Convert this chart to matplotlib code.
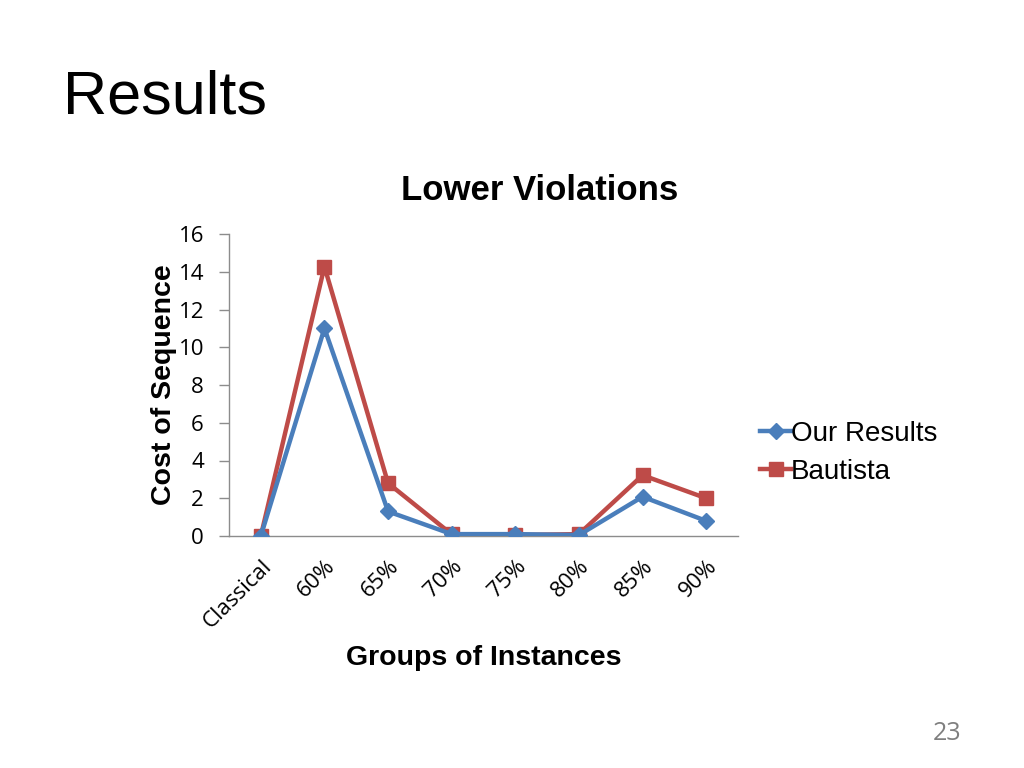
import matplotlib
matplotlib.use('Agg')
import matplotlib.pyplot as plt

#chart data
categories = ['Classical', '60%', '65%', '70%', '75%', '80%', '85%', '90%']
ourResults = [0, 11.0, 1.3, 0.1, 0.1, 0.05, 2.08, 0.8]
bautista = [0, 14.27, 2.8, 0.09, 0.05, 0.1, 3.22, 2.0]
yticks = [0, 2, 4, 6, 8, 10, 12, 14, 16]

blue = '#4A7EBB'
red = '#BE4B48'
grey = '#8C8C8C'

fig = plt.figure(figsize=(10.24, 7.68), dpi=100)
fig.patch.set_facecolor('white')

#slide title and page number
fig.text(63/1024, 1 - 98/768, 'Results', fontsize=44, family='Liberation Sans', va='center', ha='left')
fig.text(961/1024, 1 - 733/768, '23', fontsize=18, family='Open Sans', color='#7F7F7F', va='center', ha='right')

#chart title is centred over the whole chart area (plot + legend), not just the axes
fig.text(540/1024, 1 - 190/768, 'Lower Violations', fontsize=25, fontweight='bold', family='Liberation Sans',
         va='center', ha='center')

ax = fig.add_axes([229/1024, 1 - 536/768, (738 - 229)/1024, (536 - 234)/768])
x = list(range(len(categories)))

ax.plot(x, ourResults, color=blue, linewidth=3.2, marker='D', markersize=8, label='Our Results', zorder=3)
ax.plot(x, bautista, color=red, linewidth=3.2, marker='s', markersize=10, label='Bautista', zorder=2)

ax.set_xlim(-0.5, len(categories) - 0.5)
ax.set_ylim(0, 16)
ax.set_yticks(yticks)
ax.set_yticklabels([str(v) for v in yticks], fontsize=16, family='Open Sans')
ax.set_xticks(x)
ax.set_xticklabels(categories, fontsize=16, family='Open Sans', rotation=45, ha='right', rotation_mode='anchor')
ax.tick_params(axis='x', length=0, pad=14)
ax.tick_params(axis='y', length=7, color=grey, width=1, pad=11)

for side in ['top', 'right']:
    ax.spines[side].set_visible(False)
for side in ['left', 'bottom']:
    ax.spines[side].set_color(grey)
    ax.spines[side].set_linewidth(1)

ax.set_ylabel('Cost of Sequence', fontsize=20.5, fontweight='bold', family='Liberation Sans', labelpad=1)
ax.set_xlabel('Groups of Instances', fontsize=20.5, fontweight='bold', family='Liberation Sans', labelpad=9)

leg = ax.legend(loc='center left', bbox_to_anchor=(1.022, 0.275), frameon=False,
                prop={'family': 'Liberation Sans', 'size': 20}, handlelength=1.1, handletextpad=0.0,
                labelspacing=0.45, borderaxespad=0)

plt.savefig('out.png', dpi=100, facecolor='white')
